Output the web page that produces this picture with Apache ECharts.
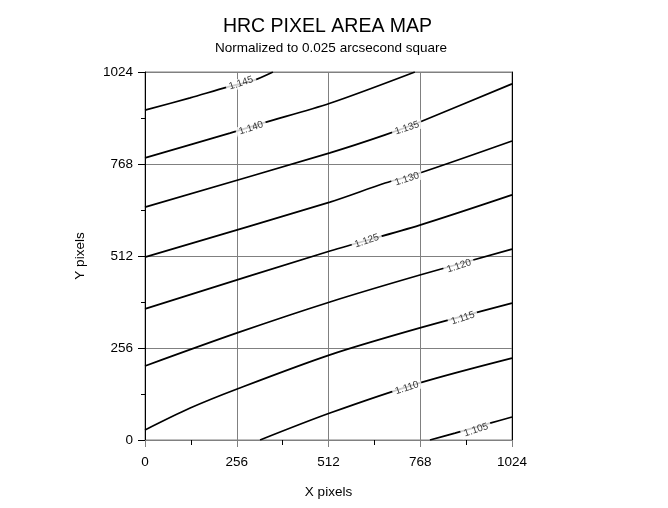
<!DOCTYPE html>
<html>
<head>
<meta charset="utf-8">
<script src="https://cdn.jsdelivr.net/npm/echarts@6/dist/echarts.min.js"></script>
<style>
  html, body { margin: 0; padding: 0; background: #fff; }
  #chart { width: 668px; height: 508px; }
</style>
</head>
<body>
<div id="chart"></div>
<script>
// Contour levels
const levels = ['1.145', '1.140', '1.135', '1.130', '1.125', '1.120', '1.115', '1.110', '1.105'];

// Contour line points (X pixels, Y pixels)
const line1145X = [0, 126, 229, 299, 357];
const line1145Y = [918, 952, 982, 999, 1024];
const line1140X = [0, 237, 329, 516, 753];
const line1140Y = [785, 854, 882, 937, 1024];
const line1135X = [0, 516, 670, 767, 1024];
const line1135Y = [648, 799, 849, 885, 991];
const line1130X = [0, 516, 670, 767, 1024];
const line1130Y = [509, 662, 715, 743, 832];
const line1125X = [0, 516, 767, 1024];
const line1125Y = [365, 526, 598, 682];
const line1120X = [0, 257, 516, 767, 1024];
const line1120Y = [206, 298, 384, 459, 531];
const line1115X = [0, 126, 257, 516, 767, 1024];
const line1115Y = [28, 89, 142, 237, 312, 381];
const line1110X = [321, 516, 767, 1024];
const line1110Y = [0, 75, 159, 228];
const line1105X = [795, 865, 963, 1024];
const line1105Y = [0, 19, 47, 64];

// Label positions for each contour (X pixels, Y pixels)
const labelX = [268, 296, 731, 731, 619, 876, 887, 731, 924];
const labelY = [993, 868, 868, 726, 554, 484, 339, 145, 28];

// Axis ticks
const axisTicks = [0, 256, 512, 768, 1024];

const linesX = [line1145X, line1140X, line1135X, line1130X, line1125X, line1120X, line1115X, line1110X, line1105X];
const linesY = [line1145Y, line1140Y, line1135Y, line1130Y, line1125Y, line1120Y, line1115Y, line1110Y, line1105Y];

const FONT = '"Liberation Sans", Arial, sans-serif';

const series = linesX.map((xs, i) => ({
  type: 'line',
  name: levels[i],
  data: xs.map((x, j) => [x, linesY[i][j]]),
  showSymbol: false,
  smooth: 0.3,
  lineStyle: { color: '#000', width: 1.7 },
  z: 3,
  silent: true
}));

series.push({
  type: 'scatter',
  data: labelX.map((x, i) => ({ value: [x, labelY[i]], name: levels[i] })),
  symbolSize: 0,
  z: 5,
  silent: true,
  label: {
    show: true,
    position: 'inside',
    formatter: p => p.name,
    rotate: 18,
    fontFamily: FONT,
    fontSize: 10,
    color: '#000',
    backgroundColor: '#fff',
    padding: [0, 3]
  }
});

const chart = echarts.init(document.getElementById('chart'), null, { renderer: 'canvas' });
chart.setOption({
  animation: false,
  backgroundColor: '#fff',
  title: [
    { text: 'HRC PIXEL AREA MAP', left: 327.5, top: 17, textAlign: 'center', padding: 0,
      textStyle: { fontFamily: FONT, fontSize: 19.5, fontWeight: 'normal', color: '#000' } },
    { text: 'Normalized to 0.025 arcsecond square', left: 331, top: 41.5, textAlign: 'center', padding: 0,
      textStyle: { fontFamily: FONT, fontSize: 13.5, fontWeight: 'normal', color: '#000' } }
  ],
  grid: { left: 145, right: 156, top: 72, bottom: 68, show: true, borderColor: '#808080', borderWidth: 1 },
  xAxis: {
    type: 'value', min: 0, max: 1024, interval: 256,
    name: 'X pixels', nameLocation: 'middle', nameGap: 45,
    nameTextStyle: { fontFamily: FONT, fontSize: 13.5, color: '#000' },
    axisLine: { show: true, lineStyle: { color: '#808080', width: 1 } },
    axisTick: { show: true, inside: false, length: 7, lineStyle: { color: '#808080' } },
    minorTick: { show: true, splitNumber: 2, length: 5, lineStyle: { color: '#000' } },
    axisLabel: { fontFamily: FONT, fontSize: 13.5, color: '#000', margin: 15,
      formatter: v => axisTicks.includes(v) ? String(v) : '' },
    splitLine: { show: true, lineStyle: { color: '#808080', width: 1 } }
  },
  yAxis: [{
    type: 'value', min: 0, max: 1024, interval: 256,
    name: 'Y pixels', nameLocation: 'middle', nameGap: 58, nameRotate: 90,
    nameTextStyle: { fontFamily: FONT, fontSize: 13.5, color: '#000' },
    axisLine: { show: true, lineStyle: { color: '#000', width: 1 } },
    axisTick: { show: true, inside: false, length: 7, lineStyle: { color: '#000' } },
    minorTick: { show: true, splitNumber: 2, length: 4, lineStyle: { color: '#000' } },
    axisLabel: { fontFamily: FONT, fontSize: 13.5, color: '#000', margin: 12,
      formatter: v => axisTicks.includes(v) ? String(v) : '' },
    splitLine: { show: true, lineStyle: { color: '#808080', width: 1 } }
  }, {
    type: 'value', min: 0, max: 1024, interval: 256, position: 'right',
    axisLine: { show: true, onZero: false, lineStyle: { color: '#000', width: 1 } },
    axisTick: { show: false }, axisLabel: { show: false }, splitLine: { show: false }
  }],
  series: series
});
</script>
</body>
</html>
